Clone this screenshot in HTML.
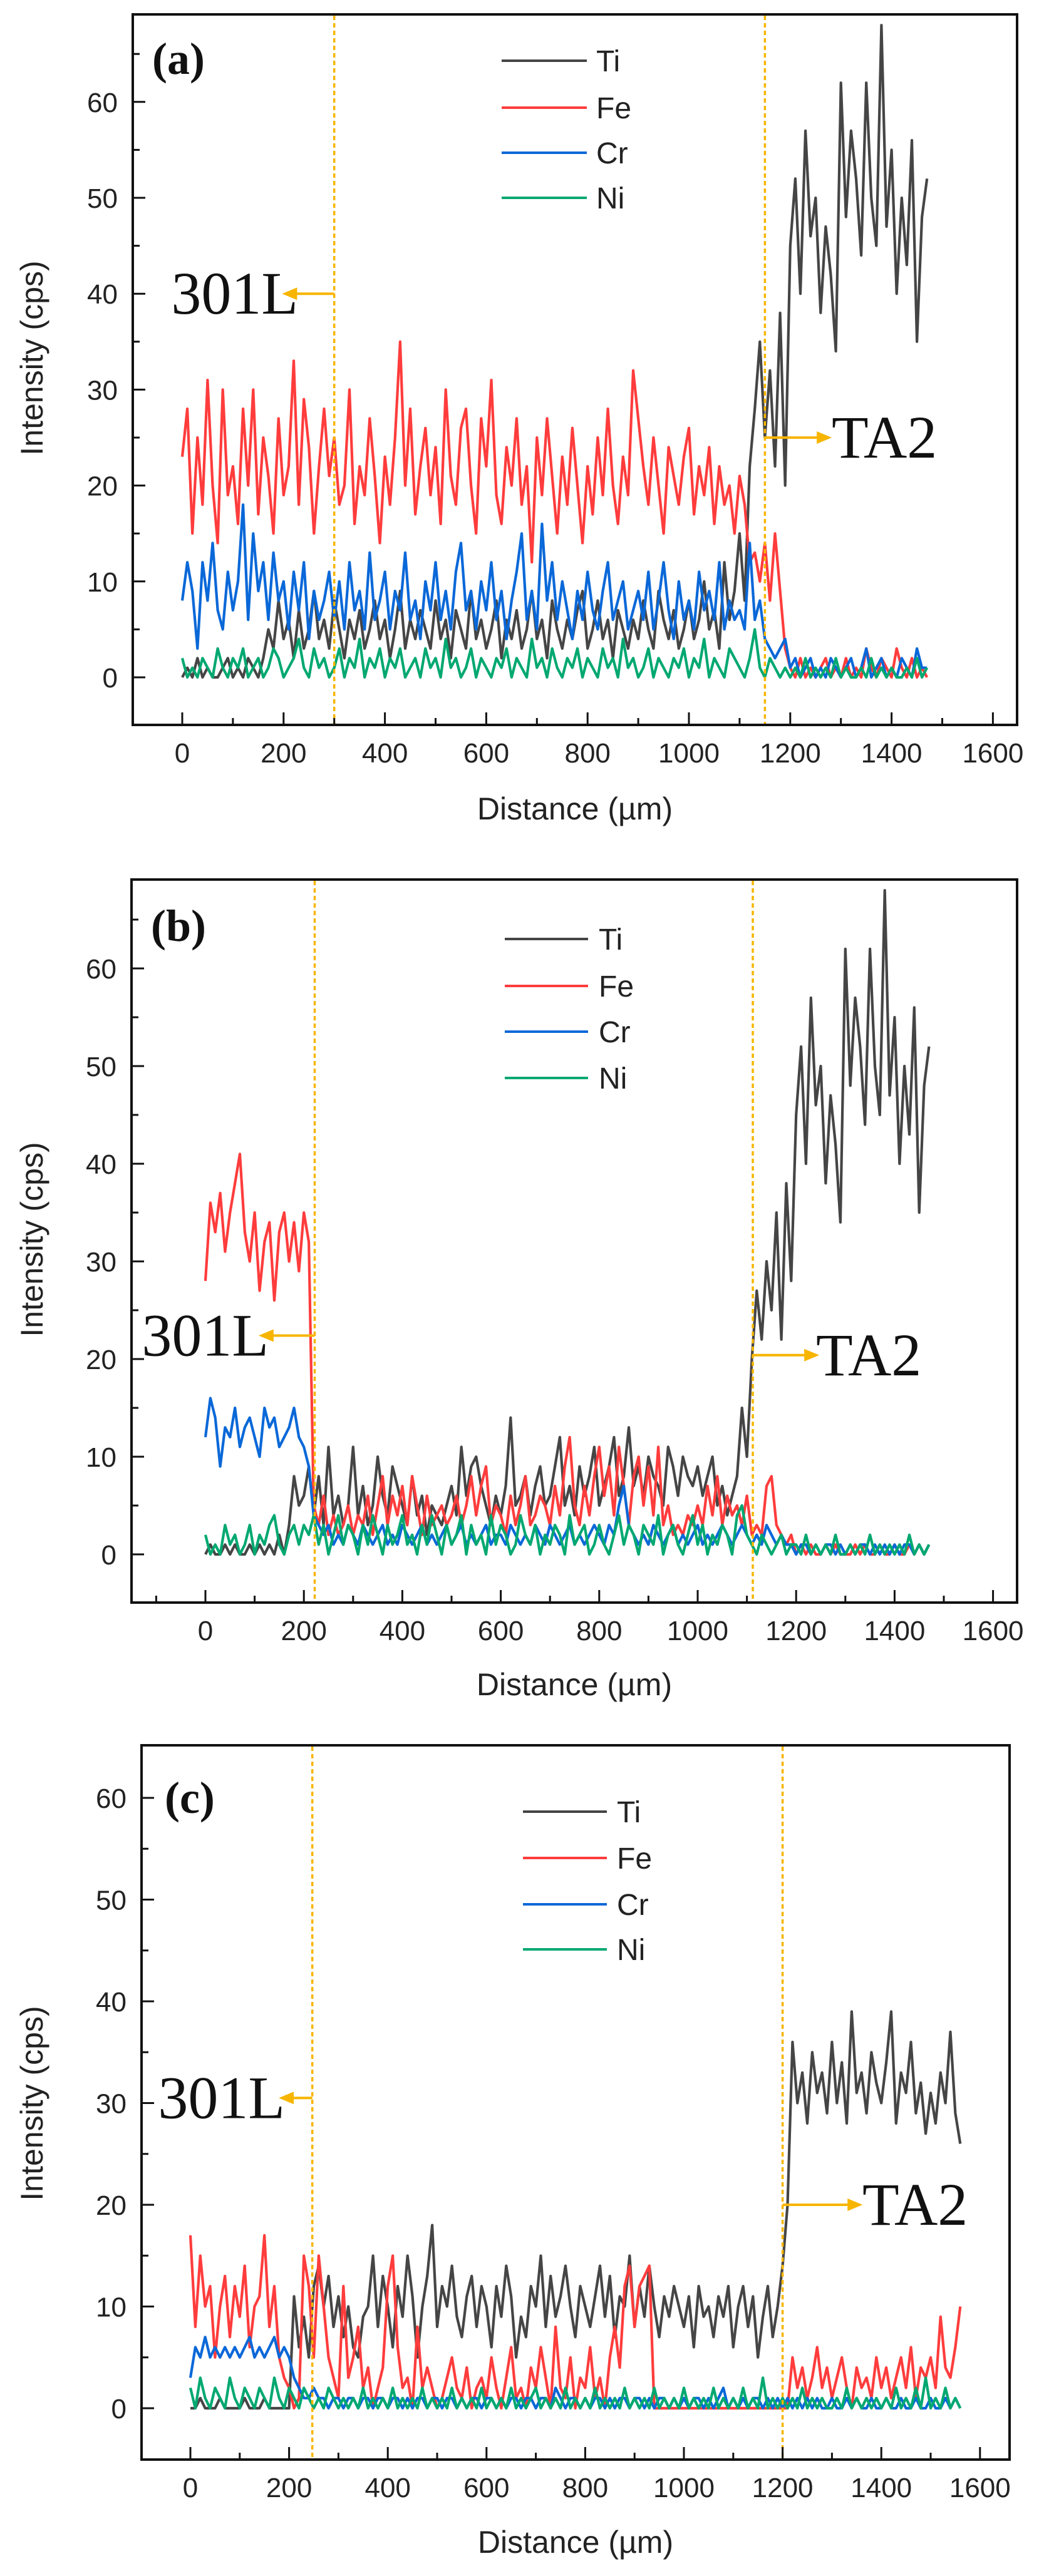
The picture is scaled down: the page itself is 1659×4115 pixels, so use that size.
<!DOCTYPE html>
<html><head><meta charset="utf-8"><style>
html,body{margin:0;padding:0;background:#fff;}
svg{display:block;}
</style></head><body>
<svg id="chart" width="1659" height="4115" viewBox="0 0 1659 4115" xmlns="http://www.w3.org/2000/svg"></svg>
<script>
// ---------- DATA (distance step 10 µm, starting at 0) ----------
const STEP = 10;
const seriesNames = ["Ti","Fe","Cr","Ni"];
const xTicks = [0,200,400,600,800,1000,1200,1400,1600];
const yTicks = [0,10,20,30,40,50,60];

const tiA = [0,1,0,2,0,1,0,0,1,2, 0,1,0,2,1,0,2,5,3,8, 4,6,2,7,3,5,9,4,6,3, 8,5,2,6,4,7,3,5,8,4, 6,2,5,9,3,6,4,7,5,3, 8,4,6,2,7,5,3,9,4,6, 3,5,8,2,6,4,7,3,5,9, 4,6,2,8,5,3,6,4,7,9, 3,5,8,4,6,2,7,5,3,6, 4,8,5,3,9,6,4,7,3,5, 8,4,6,10,5,7,3,12,6,9, 15,8,22,28,35,25,32,22,38,20, 45,52,40,57,46,50,38,47,42,34, 62,48,57,52,44,62,50,45,68,47, 55,40,50,43,56,35,48,52];
const feA = [23,28,15,25,18,31,20,14,30,19, 22,16,28,20,30,17,25,21,15,27, 19,22,33,18,29,24,15,22,28,21, 25,18,20,30,16,22,19,27,21,14, 23,18,25,35,20,28,17,22,26,19, 24,16,30,21,18,26,28,20,15,27, 22,31,19,16,24,20,27,18,22,12, 25,19,27,21,15,23,18,26,20,14, 22,17,25,19,28,20,16,23,19,32, 27,22,18,25,20,15,24,21,18,23, 26,17,22,19,24,16,22,18,20,15, 21,18,12,13,10,14,8,15,9,3, 1,0,2,0,1,0,1,2,0,1, 0,2,0,1,0,3,1,0,2,1, 0,3,1,0,2,0,1,0];
const crA = [8,12,9,3,12,8,14,7,5,11, 7,10,18,6,15,9,12,6,13,8, 10,5,11,7,12,4,9,6,8,11, 6,10,5,12,7,9,5,13,6,8, 11,5,9,7,13,6,8,4,10,7, 12,6,9,5,11,14,7,9,5,10, 7,12,6,9,4,8,11,15,6,9, 5,16,8,12,6,10,7,4,9,6, 11,7,5,9,12,6,8,10,5,7, 9,6,11,5,8,12,7,4,10,6, 8,5,11,7,9,6,12,5,8,6, 7,5,14,6,8,4,3,2,3,4, 1,2,0,1,2,0,1,0,2,1, 0,1,2,0,1,3,0,1,2,0, 1,0,2,1,0,3,1,1];
const niA = [2,0,1,0,2,1,0,3,1,0, 2,1,3,0,1,2,0,1,3,2, 0,1,2,4,1,0,3,1,2,0, 1,3,0,2,1,4,0,2,1,3, 0,2,1,3,0,1,2,0,3,1, 2,0,4,1,2,0,1,3,0,2, 1,0,2,1,3,0,2,1,0,4, 1,2,0,3,1,0,2,1,3,0, 2,1,0,3,1,2,0,4,1,2, 0,1,3,0,2,1,0,2,1,3, 0,2,1,4,0,2,1,0,3,2, 1,0,2,5,1,0,2,1,0,1, 0,1,0,2,0,1,0,1,0,2, 0,1,0,0,1,0,2,0,1,0, 1,0,0,1,0,2,0,1];

const tiB = [0,1,0,0,1,0,1,0,0,1, 0,1,0,1,0,2,0,3,8,5, 6,9,4,8,3,11,4,6,3,5, 11,4,7,3,5,10,6,4,9,7, 5,3,8,4,6,2,5,4,3,5, 7,4,11,6,9,10,7,5,3,6, 4,7,14,5,6,8,4,7,9,5, 6,9,12,5,7,4,9,6,8,11, 5,7,9,12,6,8,13,7,9,6, 10,8,7,5,11,9,6,10,8,7, 9,6,8,10,5,7,4,6,8,15, 10,20,27,22,30,25,35,22,38,28, 45,52,40,57,46,50,38,47,42,34, 62,48,57,52,44,62,50,45,68,47, 55,40,50,43,56,35,48,52];
const feB = [28,36,33,37,31,35,38,41,33,30, 35,27,32,34,26,33,35,30,34,29, 35,32,5,3,6,2,4,2,3,5, 2,4,3,6,2,5,8,3,6,4, 7,3,8,5,2,6,3,4,5,3, 4,6,3,5,8,4,7,9,3,5, 4,2,6,3,5,8,3,4,6,5, 3,7,4,9,12,5,3,7,4,8, 11,6,9,4,11,7,3,8,10,5, 9,4,11,3,5,2,3,2,4,3, 5,3,7,4,8,3,6,4,5,3, 6,2,3,2,7,8,3,2,1,2, 0,1,0,1,0,0,1,0,1,0, 0,0,1,0,1,0,0,1,0,0, 1,0,0,1,0,1,0,1];
const crB = [12,16,14,9,13,12,15,11,13,14, 12,10,15,13,14,11,12,13,15,12, 11,9,4,3,2,3,1,2,1,3, 2,1,3,2,1,2,3,1,2,1, 3,2,1,2,3,1,2,1,2,3, 1,2,3,1,2,1,2,3,1,2, 2,1,3,2,1,2,1,3,2,1, 3,2,1,2,3,1,2,1,2,3, 2,1,3,2,5,7,3,2,1,2, 1,3,2,1,2,3,1,2,1,2, 3,1,2,1,2,3,2,1,2,3, 2,1,2,1,3,2,1,2,1,1, 0,1,1,0,1,0,1,1,0,1, 0,1,0,1,1,0,1,0,1,0, 1,0,1,1,0,1,0,1];
const niB = [2,0,1,0,3,1,2,0,1,3, 0,2,1,3,4,1,0,2,3,1, 3,2,4,1,3,0,2,4,1,3, 2,0,3,1,4,2,0,3,1,2, 4,1,2,0,3,1,4,2,0,3, 1,2,4,0,3,1,2,0,4,1, 3,2,0,1,4,2,1,3,0,2, 1,3,2,0,4,1,2,3,0,1, 3,1,0,2,4,1,3,2,0,3, 2,1,4,0,2,3,1,0,2,4, 1,3,0,2,1,3,2,0,4,5, 2,1,0,2,1,0,1,2,0,1, 1,0,2,0,1,0,1,0,2,0, 0,1,0,1,0,2,0,1,0,1, 0,1,0,2,0,1,0,1];

const tiC = [0,0,1,0,0,0,1,0,0,0, 0,1,0,0,0,1,0,0,0,0, 0,11,6,9,5,12,14,10,13,8, 11,7,10,6,5,9,10,15,8,13, 10,6,12,9,15,11,5,10,13,18, 8,12,10,14,9,7,11,13,8,12, 10,6,12,9,14,11,5,9,7,12, 10,15,8,13,9,11,14,10,7,12, 10,8,11,14,9,13,7,11,10,15, 8,12,9,14,10,7,11,9,12,10, 8,11,6,12,9,10,7,11,9,12, 6,10,12,8,11,5,9,12,7,10, 14,20,36,30,33,28,35,31,33,29, 36,30,34,28,39,31,33,29,35,32, 30,34,39,28,33,31,36,29,32,27, 31,28,33,30,37,29,26];
const feC = [17,8,15,10,12,5,10,13,7,12, 9,14,6,10,11,17,8,12,5,3, 2,0,1,15,12,5,15,10,5,3, 1,12,3,5,8,2,4,0,2,4, 12,15,6,2,3,0,8,2,4,2, 0,1,3,5,2,1,4,0,2,3, 1,5,2,0,3,6,1,2,0,4, 2,6,3,0,8,2,1,5,0,3, 2,6,1,3,0,5,8,4,12,14, 8,12,13,14,0,0,0,0,0,0, 0,0,0,0,0,0,0,0,0,0, 0,0,0,0,0,0,0,0,0,0, 0,0,5,2,4,1,3,6,2,4, 1,3,5,2,0,4,2,3,1,5, 2,4,1,3,5,2,6,1,4,3, 5,2,9,4,3,6,10];
const crC = [3,6,5,7,5,6,5,6,5,6, 5,6,7,5,6,5,6,7,5,6, 5,3,2,1,1,2,1,1,0,1, 1,0,1,1,0,1,1,0,1,1, 0,1,1,0,1,0,1,1,0,1, 1,0,1,1,0,1,0,1,1,0, 1,1,0,1,0,1,1,0,1,1, 0,1,1,0,2,1,0,1,1,0, 1,0,1,1,0,1,0,1,1,0, 1,1,0,1,0,1,1,0,1,0, 1,0,1,1,0,1,0,1,2,0, 1,0,1,0,1,1,0,1,0,1, 0,1,0,1,0,1,0,1,0,0, 1,0,0,1,0,1,0,0,1,0, 0,1,0,0,1,0,0,1,0,0, 1,0,0,1,0,1,0];
const niC = [2,0,3,1,0,2,1,0,3,1, 0,2,1,0,2,1,0,3,1,0, 2,1,0,2,1,0,1,0,2,1, 0,1,0,1,0,2,0,1,0,1, 0,2,0,1,0,1,0,2,0,1, 0,1,0,2,0,1,0,1,0,2, 0,1,0,1,0,2,0,1,0,1, 2,0,1,0,1,0,2,0,1,0, 1,0,2,0,1,0,1,0,2,0, 1,0,1,0,2,0,1,0,1,0, 2,0,1,0,1,0,2,0,1,0, 1,0,2,0,1,0,3,0,1,0, 1,0,1,0,2,0,1,0,1,0, 0,1,0,2,0,1,0,1,0,1, 0,1,0,2,0,1,0,2,0,3, 0,1,0,2,0,1,0];

const interfacesA = [300,1150];
const interfacesB = [222,1112];
const interfacesC = [247,1200];

// ---------- LAYOUT ----------
const COLORS = {Ti:"#454545", Fe:"#ff3c3c", Cr:"#0a68d8", Ni:"#00a870"};
const YEL = "#f7b500";
const panels = [
  {id:"a", L:212,R:1624,T:23,B:1158, x0:291,kx:0.809, y0:1082,ky:15.32,
   data:{Ti:tiA,Fe:feA,Cr:crA,Ni:niA}, ifc:interfacesA,
   leg:{x1:801,x2:937,tx:952,ys:[97,172,244,316]}, lab:{x:243,y:118},
   a1:{y:40,to:197,tx:476}, a2:{y:25,to:1282,tx:1328}, ytx:572, xtx:1291},
  {id:"b", L:210,R:1624,T:1405,B:2560, x0:328,kx:0.786, y0:2483,ky:15.6,
   data:{Ti:tiB,Fe:feB,Cr:crB,Ni:niB}, ifc:interfacesB,
   leg:{x1:806,x2:939,tx:956,ys:[1500,1575,1648,1722]}, lab:{x:241,y:1503},
   a1:{y:22.4,to:108,tx:429}, a2:{y:20.4,to:1247,tx:1303}, ytx:1980, xtx:2690},
  {id:"c", L:226,R:1612,T:2788,B:3929, x0:304,kx:0.788, y0:3847,ky:16.25,
   data:{Ti:tiC,Fe:feC,Cr:crC,Ni:niC}, ifc:interfacesC,
   leg:{x1:835,x2:969,tx:985,ys:[2894,2968,3042,3114]}, lab:{x:263,y:2896},
   a1:{y:30.5,to:179,tx:455}, a2:{y:20,to:1362,tx:1377}, ytx:3360, xtx:4060}
];

const NS = "http://www.w3.org/2000/svg";
const svg = document.getElementById("chart");
function mk(tag, attrs, parent){
  const e = document.createElementNS(NS, tag);
  for (const k in attrs) e.setAttribute(k, attrs[k]);
  (parent||svg).appendChild(e);
  return e;
}
const SANS = '"Liberation Sans", Arial, sans-serif';
const SERIF = '"Liberation Serif", "Times New Roman", serif';

panels.forEach(p => {
  const X = v => p.x0 + v * p.kx;
  const Y = v => p.y0 - v * p.ky;
  const g = mk("g", {});
  
  

  seriesNames.forEach(name => {
    const vals = p.data[name];
    const d = vals.map((v,i) => (i?"L":"M") + X(i*STEP).toFixed(1) + " " + Y(v).toFixed(1)).join(" ");
    const path = mk("path", {d:d, fill:"none", stroke:COLORS[name], "stroke-width":4.2, "stroke-linejoin":"round"}, g);
    
    
  });

  p.ifc.forEach((v,i) => {
    const l = mk("line", {x1:X(v), x2:X(v), y1:p.T+2, y2:p.B-2, stroke:YEL, "stroke-width":3.5, "stroke-dasharray":"7 5"}, g);
    
    
  });

  function arrow(fromV, toV, yV, nm){
    const y = Y(yV), x1 = X(fromV), x2 = X(toV);
    const dir = x2 > x1 ? 1 : -1;
    const ag = mk("g", {}, g);
    
    
    mk("line", {x1:x1, x2:x2 - dir*18, y1:y, y2:y, stroke:YEL, "stroke-width":4}, ag);
    mk("path", {d:`M${x2} ${y} L${x2-dir*24} ${y-10} L${x2-dir*24} ${y+10} Z`, fill:YEL}, ag);
  }
  arrow(p.ifc[0], p.a1.to, p.a1.y, 'arrow-301l-' + p.id);
  arrow(p.ifc[1], p.a2.to, p.a2.y, 'arrow-ta2-' + p.id);
  const t1 = mk("text", {x:p.a1.tx, y:Y(p.a1.y)+32, "text-anchor":"end", "font-family":SERIF, "font-size":96, fill:"#111"}, g);
  t1.textContent = "301L";
  
  
  const t2 = mk("text", {x:p.a2.tx, y:Y(p.a2.y)+32, "font-family":SERIF, "font-size":96, fill:"#111"}, g);
  t2.textContent = "TA2";
  
  

  const fr = mk("rect", {x:p.L, y:p.T, width:p.R-p.L, height:p.B-p.T, fill:"none", stroke:"#111", "stroke-width":4}, g);
  
  

  for (let v = 0; v <= 65; v += 5){
    const y = Y(v);
    if (y < p.T + 5) break;
    const major = v % 10 === 0;
    mk("line", {x1:p.L, x2:p.L + (major?20:11), y1:y, y2:y, stroke:"#111", "stroke-width":3}, g);
  }
  yTicks.forEach(v => {
    const t = mk("text", {x:p.L-24, y:Y(v)+16, "text-anchor":"end", "font-family":SANS, "font-size":44, fill:"#222"}, g);
    t.textContent = v;
    
    
  });
  for (let v = -100; v <= 1600; v += 100){
    const x = X(v);
    if (x < p.L + 5) continue;
    const major = v % 200 === 0;
    mk("line", {x1:x, x2:x, y1:p.B, y2:p.B - (major?20:11), stroke:"#111", "stroke-width":3}, g);
  }
  xTicks.forEach(v => {
    const t = mk("text", {x:X(v), y:p.B+60, "text-anchor":"middle", "font-family":SANS, "font-size":44, fill:"#222"}, g);
    t.textContent = v;
    
    
  });
  const xt = mk("text", {x:(p.L+p.R)/2, y:p.xtx+18, "text-anchor":"middle", "font-family":SANS, "font-size":50, fill:"#222"}, g);
  xt.textContent = "Distance (µm)";
  
  
  const yt = mk("text", {x:0, y:0, transform:`translate(68 ${p.ytx}) rotate(-90)`, "text-anchor":"middle", "font-family":SANS, "font-size":50, fill:"#222"}, g);
  yt.textContent = "Intensity (cps)";
  
  

  const pl = mk("text", {x:p.lab.x, y:p.lab.y, "font-family":SERIF, "font-weight":"bold", "font-size":72, fill:"#111"}, g);
  pl.textContent = "(" + p.id + ")";
  
  

  seriesNames.forEach((name,i) => {
    const y = p.leg.ys[i];
    const lg = mk("g", {}, g);
    
    
    mk("line", {x1:p.leg.x1, x2:p.leg.x2, y1:y, y2:y, stroke:COLORS[name], "stroke-width":4}, lg);
    const t = mk("text", {x:p.leg.tx, y:y+17, "font-family":SANS, "font-size":48, fill:"#222"}, lg);
    t.textContent = name;
  });
});
</script>
</body></html>
